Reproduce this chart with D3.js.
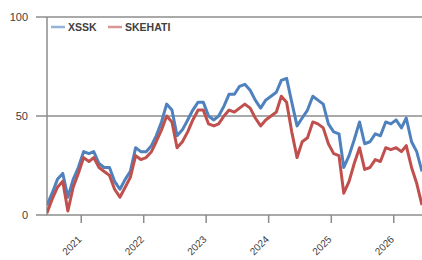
<!DOCTYPE html>
<html>
<head>
<meta charset="utf-8">
<script src="https://cdn.jsdelivr.net/npm/d3@7"></script>
<style>
  body { margin: 0; background: #fff; }
  svg { display: block; font-family: "Liberation Sans", Arial, sans-serif; }
</style>
</head>
<body>
<div id="chart"></div>
<script>
// Monthly values, starting June 2020
const startMonth = new Date(2020, 5, 15);
const xssk = [5, 11, 18, 21, 9, 18, 24, 32, 31, 32, 26, 24, 24, 17, 13, 18, 22, 34, 32, 32,
  35, 40, 47, 56, 53, 40, 43, 48, 53, 57, 57, 50, 48, 50, 55, 61, 61, 65, 66, 63,
  58, 54, 58, 60, 62, 68, 69, 57, 45, 49, 53, 60, 58, 56, 46, 42, 41, 24, 30, 38,
  47, 36, 37, 41, 40, 47, 46, 48, 44, 49, 37, 32, 22];
const skehati = [1, 8, 14, 17, 2, 14, 21, 29, 27, 29, 24, 22, 20, 13, 9, 14, 19, 30, 28, 29,
  32, 37, 43, 50, 47, 34, 37, 42, 48, 53, 53, 46, 45, 46, 50, 53, 52, 54, 56, 54,
  49, 45, 48, 50, 52, 60, 57, 42, 29, 37, 39, 47, 46, 44, 36, 31, 30, 11, 17, 26,
  34, 23, 24, 28, 27, 34, 33, 34, 32, 35, 24, 16, 5];
const seriesNames = ["XSSK", "SKEHATI"];
const seriesColors = ["#4F81BD", "#C0504D"];
const yTicks = [0, 50, 100];
const xTickYears = [2021, 2022, 2023, 2024, 2025, 2026];

const width = 422, height = 260;
const margin = { top: 17, right: 0, bottom: 45, left: 47 };

const svg = d3.select("#chart")
    .append("svg")
    .attr("width", width)
    .attr("height", height);

const x = d3.scaleTime()
    .domain([startMonth, new Date(2026, 5, 15)])
    .range([margin.left, width - margin.right]);

const y = d3.scaleLinear()
    .domain([0, 100])
    .range([height - margin.bottom, margin.top]);

const dates = xssk.map((d, i) => d3.timeMonth.offset(startMonth, i));

// Gridlines (at 50 and 100), extending left as ticks
svg.append("g")
    .selectAll("line")
    .data(yTicks.filter(t => t > 0))
    .enter()
    .append("line")
    .attr("x1", 36)
    .attr("x2", width)
    .attr("y1", d => y(d))
    .attr("y2", d => y(d))
    .attr("stroke", "#8c8c8c")
    .attr("stroke-width", 1.5);

// Y labels
svg.append("g")
    .selectAll("text")
    .data(yTicks)
    .enter()
    .append("text")
    .attr("x", 28)
    .attr("y", d => y(d) + 4)
    .attr("text-anchor", "end")
    .style("font-size", "11px")
    .attr("fill", "#404040")
    .text(d => d);

// Vertical axis line
svg.append("line")
    .attr("x1", margin.left).attr("x2", margin.left)
    .attr("y1", y(100)).attr("y2", y(0))
    .attr("stroke", "#8c8c8c")
    .attr("stroke-width", 1.5);

// Bottom axis
const xAxis = svg.append("g")
    .attr("transform", `translate(0,${y(0)})`);

xAxis.append("line")
    .attr("x1", 36).attr("x2", width)
    .attr("stroke", "#8c8c8c")
    .attr("stroke-width", 1.5);

const ticks = xAxis.selectAll(".tick")
    .data(xTickYears.map(yr => new Date(yr, 0, 1)))
    .enter()
    .append("g")
    .attr("transform", d => `translate(${x(d)},0)`);

ticks.append("line")
    .attr("y1", 0).attr("y2", 8)
    .attr("stroke", "#8c8c8c")
    .attr("stroke-width", 1.5);

ticks.append("text")
    .attr("transform", "translate(1,25) rotate(-45)")
    .attr("text-anchor", "end")
    .style("font-size", "10px")
    .attr("fill", "#404040")
    .text(d => d.getFullYear());

// Lines
svg.append("clipPath")
    .attr("id", "clip")
    .append("rect")
    .attr("x", margin.left).attr("y", 0)
    .attr("width", width - margin.left).attr("height", height);

const line = d3.line()
    .x((d, i) => x(dates[i]))
    .y(d => y(d));

[xssk, skehati].forEach((vals, k) => {
    svg.append("path")
        .datum(vals)
        .attr("clip-path", "url(#clip)")
        .attr("fill", "none")
        .attr("stroke", seriesColors[k])
        .attr("stroke-width", 3)
        .attr("stroke-linejoin", "round")
        .attr("d", line);
});

// Legend
const legend = svg.append("g")
    .attr("transform", "translate(51,27)");

const legendX = [0, 57];
seriesNames.forEach((name, i) => {
    legend.append("line")
        .attr("x1", legendX[i]).attr("x2", legendX[i] + 14)
        .attr("y1", 0).attr("y2", 0)
        .attr("stroke", seriesColors[i])
        .attr("stroke-opacity", 0.6)
        .attr("stroke-width", 2.5);

    legend.append("text")
        .attr("x", legendX[i] + 17)
        .attr("y", 4)
        .style("font-size", "10.5px")
        .style("font-weight", "bold")
        .attr("fill", "#404040")
        .text(name);
});
</script>
</body>
</html>
